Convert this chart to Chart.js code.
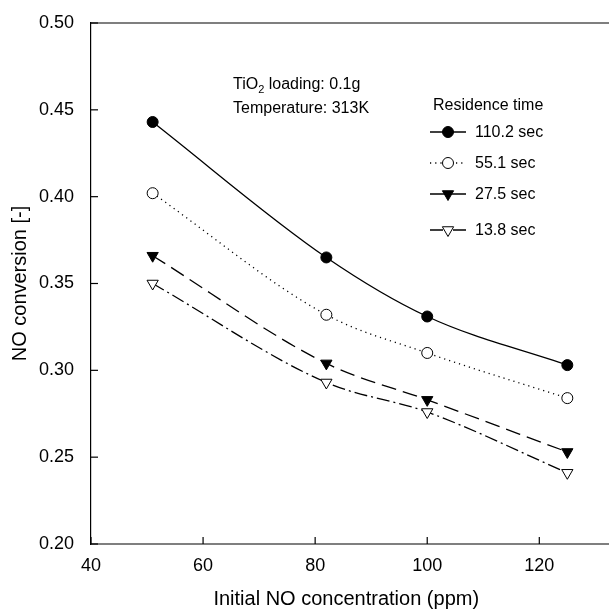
<!DOCTYPE html>
<html>
<head>
<meta charset="utf-8">
<script src="https://cdn.jsdelivr.net/npm/chart.js@4/dist/chart.umd.min.js"></script>
<style>
html,body{margin:0;padding:0;background:#fff;}
#wrap{width:609px;height:610px;}
</style>
</head>
<body>
<div id="wrap"><canvas id="noChart" width="609" height="610"></canvas></div>
<script>

// Initial NO concentration (ppm)
const concentration = [51, 82, 100, 125];

// NO conversion per residence time
const conv110 = [0.443, 0.365, 0.331, 0.303];
const conv55 = [0.402, 0.332, 0.310, 0.284];
const conv27 = [0.366, 0.304, 0.283, 0.253];
const conv13 = [0.350, 0.293, 0.276, 0.241];

const seriesLabels = ["110.2 sec", "55.1 sec", "27.5 sec", "13.8 sec"];

const xTicks = [40, 60, 80, 100, 120];
const yTicks = [0.20, 0.25, 0.30, 0.35, 0.40, 0.45, 0.50];

const FONT = "'Liberation Sans', Arial, sans-serif";

function pts(ys){
    return concentration.map(function(x, i){
        return {x: x, y: ys[i]};
    });
}

const styles = [
    {dash: [], point: "circle", fill: "#000", rot: 0, r: 5.5},
    {dash: [1.2, 4], point: "circle", fill: "#fff", rot: 0, r: 5.5},
    {dash: [15, 7], point: "triangle", fill: "#000", rot: 180, r: 6.5},
    {dash: [13, 4, 2, 4], point: "triangle", fill: "#fff", rot: 180, r: 6.5}
];

const seriesData = [conv110, conv55, conv27, conv13];

const datasets = seriesData.map(function(d, i){
    const s = styles[i];
    return {
        label: seriesLabels[i],
        data: pts(d),
        borderColor: "#000",
        borderWidth: 1.3,
        borderDash: s.dash,
        cubicInterpolationMode: "monotone",
        pointStyle: s.point,
        pointRotation: s.rot,
        pointRadius: s.r,
        pointBackgroundColor: s.fill,
        pointBorderColor: "#000",
        pointBorderWidth: 1
    };
});

// inward ticks, top frame, notes and legend
const decor = {
    id: "decor",
    afterDraw(chart){
        const ctx = chart.ctx;
        const a = chart.chartArea;
        const xs = chart.scales.x;
        const ys = chart.scales.y;

        ctx.save();
        ctx.strokeStyle = "#000";
        ctx.lineWidth = 1.2;
        ctx.setLineDash([]);

        ctx.beginPath();
        ctx.moveTo(a.left, a.top);
        ctx.lineTo(chart.width, a.top);
        ctx.moveTo(a.left, a.bottom);
        ctx.lineTo(chart.width, a.bottom);
        ctx.stroke();

        xTicks.forEach(function(v){
            const px = xs.getPixelForValue(v);
            ctx.beginPath();
            ctx.moveTo(px, a.bottom);
            ctx.lineTo(px, a.bottom - 7);
            ctx.stroke();
        });

        yTicks.forEach(function(v){
            const py = ys.getPixelForValue(v);
            ctx.beginPath();
            ctx.moveTo(a.left, py);
            ctx.lineTo(a.left + 7, py);
            ctx.stroke();
        });

        // notes
        ctx.fillStyle = "#000";
        ctx.textBaseline = "alphabetic";
        ctx.textAlign = "left";
        ctx.font = "16px " + FONT;
        let tx = 233;
        ctx.fillText("TiO", tx, 89);
        tx += ctx.measureText("TiO").width;
        ctx.font = "11px " + FONT;
        ctx.fillText("2", tx, 93);
        tx += ctx.measureText("2").width;
        ctx.font = "16px " + FONT;
        ctx.fillText(" loading: 0.1g", tx, 89);
        ctx.fillText("Temperature: 313K", 233, 113);

        // legend
        ctx.fillText("Residence time", 433, 110);
        const rowsY = [132, 163, 194, 230];
        datasets.forEach(function(ds, i){
            const y = rowsY[i];
            ctx.save();
            ctx.lineWidth = 1.3;
            ctx.setLineDash(ds.borderDash);
            ctx.beginPath();
            ctx.moveTo(430, y);
            ctx.lineTo(466, y);
            ctx.stroke();
            ctx.restore();
            ctx.save();
            ctx.fillStyle = ds.pointBackgroundColor;
            ctx.strokeStyle = "#000";
            ctx.lineWidth = 1;
            Chart.helpers.drawPoint(ctx, {
                pointStyle: ds.pointStyle,
                rotation: ds.pointRotation,
                radius: ds.pointRadius,
                borderWidth: 1
            }, 448, y);
            ctx.restore();
            ctx.fillStyle = "#000";
            ctx.font = "16px " + FONT;
            ctx.textBaseline = "middle";
            ctx.fillText(ds.label, 475, y + 1);
        });

        ctx.restore();
    }
};

new Chart(

    document.getElementById("noChart"),

    {
        type: "line",

        data: {datasets: datasets},

        options: {
            responsive: false,
            animation: false,
            layout: {padding: {top: 23, right: 0, left: 0, bottom: 0}},
            plugins: {
                legend: {display: false},
                tooltip: {enabled: false}
            },
            scales: {
                x: {
                    type: "linear",
                    min: 40,
                    max: 131.1,
                    afterFit(scale){ scale.height = 66; },
                    afterBuildTicks(scale){
                        scale.ticks = xTicks.map(function(v){ return {value: v}; });
                    },
                    grid: {display: false},
                    border: {display: false},
                    ticks: {
                        padding: 3,
                        color: "#000",
                        font: {family: FONT, size: 18}
                    },
                    title: {
                        display: true,
                        text: "Initial NO concentration (ppm)",
                        color: "#000",
                        font: {family: FONT, size: 20},
                        padding: {top: 0, bottom: -1}
                    }
                },
                y: {
                    min: 0.20,
                    max: 0.50,
                    afterFit(scale){ scale.width = 91; },
                    afterBuildTicks(scale){
                        scale.ticks = yTicks.map(function(v){ return {value: v}; });
                    },
                    grid: {display: false},
                    border: {display: true, color: "#000", width: 1.2},
                    ticks: {
                        padding: 9,
                        color: "#000",
                        font: {family: FONT, size: 18},
                        callback: function(v){ return Number(v).toFixed(2); }
                    },
                    title: {
                        display: true,
                        text: "NO conversion [-]",
                        color: "#000",
                        font: {family: FONT, size: 20},
                        padding: {top: 8, bottom: 0}
                    }
                }
            }
        },

        plugins: [decor]
    }
);

</script>
</body>
</html>
